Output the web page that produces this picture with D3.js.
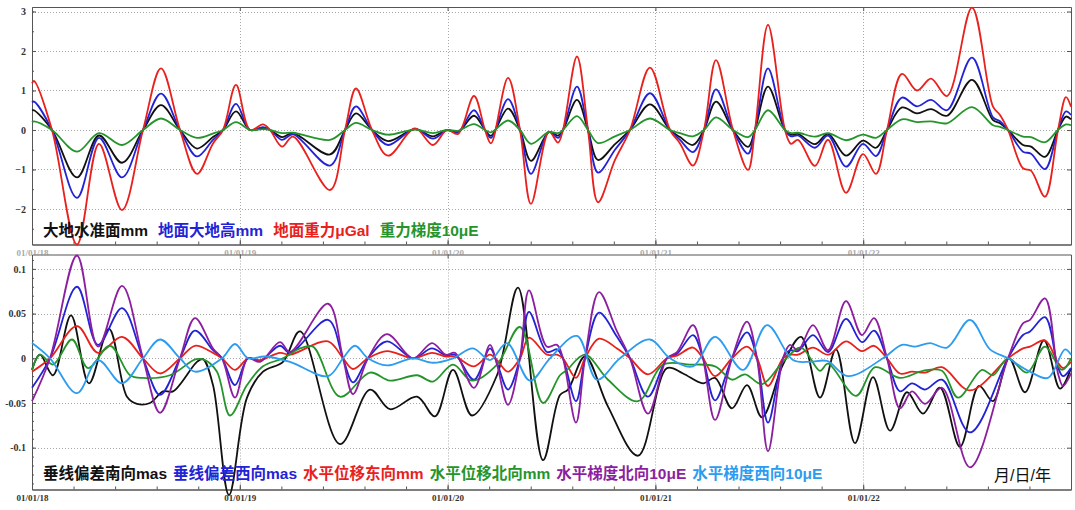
<!DOCTYPE html>
<html>
<head>
<meta charset="utf-8">
<script src="https://cdn.jsdelivr.net/npm/d3@7"></script>
<style>
  body { margin: 0; background: #fff; }
  svg { display: block; }
</style>
</head>
<body>
<div id="chart"></div>
<script>
// time is in years since 01/01/2018
const yearLabels = ["01/01/18", "01/01/19", "01/01/20", "01/01/21", "01/01/22"];
const topTicks = [-2, -1, 0, 1, 2, 3];
const bottomTicks = [-0.1, -0.05, 0, 0.05, 0.1];

// upper panel: all four series share the same knots
const topT = [0, 0.0096, 0.0962, 0.2166, 0.3224, 0.4331, 0.5342, 0.6208, 0.7122, 0.7940,
  0.8710, 0.9192, 0.9817, 1.0491, 1.1117, 1.1453, 1.2031, 1.2560, 1.4341, 1.5063,
  1.5592, 1.6362, 1.7132, 1.8431, 1.9297, 1.9971, 2.0500, 2.1270, 2.1800, 2.2089,
  2.2907, 2.3484, 2.4013, 2.4880, 2.5313, 2.5553, 2.6227, 2.6756, 2.7238, 2.8056,
  2.8778, 2.9740, 3.0703, 3.1184, 3.1809, 3.2339, 3.2916, 3.3734, 3.4456, 3.4793,
  3.5419, 3.6237, 3.6525, 3.6862, 3.7680, 3.8306, 3.9172, 3.9990, 4.0616, 4.1145,
  4.1867, 4.2589, 4.3263, 4.4033, 4.5236, 4.6247, 4.6583, 4.6968, 4.7690, 4.8075,
  4.8749, 4.9374, 4.9759, 5.0];
const geoid = [0.5, 0.5, 0, -1.2, -0.14, -0.83, 0, 0.63, 0, -0.47,
  -0.18, 0, 0.47, 0, 0.05, 0, -0.18, -0.08, -0.62, 0,
  0.42, 0, -0.28, 0.02, -0.16, 0, -0.05, 0.36, 0, -0.15,
  0.54, 0, -0.78, -0.05, -0.14, 0, 0.76, 0, -0.76, -0.36,
  0, 0.65, 0, -0.18, -0.38, 0, 0.72, 0, -0.43, 0,
  1.1, 0, -0.12, -0.1, -0.36, -0.1, -0.65, -0.27, -0.45, 0,
  0.57, 0.42, 0.53, 0.36, 1.27, 0.25, 0.17, 0, -0.38, -0.42,
  -0.68, 0, 0.34, 0.27];
const height = [0.70, 0.72, 0, -1.72, -0.2, -1.2, 0, 0.92, 0, -0.67,
  -0.25, 0, 0.66, 0, 0.07, 0, -0.25, -0.11, -0.9, 0,
  0.6, 0, -0.38, 0.03, -0.22, -0.01, -0.06, 0.5, 0, -0.2,
  0.78, 0, -1.11, -0.05, -0.2, 0, 1.1, 0, -1.08, -0.5,
  0, 0.93, 0, -0.25, -0.56, 0, 1.03, 0, -0.6, 0,
  1.56, 0, -0.16, -0.14, -0.45, -0.14, -0.93, -0.35, -0.66, 0,
  0.82, 0.6, 0.76, 0.5, 1.83, 0.32, 0.22, 0, -0.55, -0.6,
  -0.99, 0, 0.47, 0.38];
const gravity = [1.18, 1.24, 0, -2.9, -0.35, -2.03, 0, 1.56, 0, -1.11,
  -0.34, 0, 1.14, 0, 0.14, 0, -0.42, -0.17, -1.52, 0,
  1.05, 0, -0.65, 0.04, -0.38, 0, -0.1, 0.86, 0, -0.34,
  1.32, 0, -1.87, -0.04, -0.32, 0, 1.86, 0, -1.83, -0.76,
  0, 1.58, 0, -0.34, -0.9, 0, 1.77, 0, -1.01, 0,
  2.66, 0, -0.35, -0.25, -0.91, -0.25, -1.59, -0.61, -1.11, 0,
  1.42, 1.0, 1.3, 0.86, 3.1, 0.59, 0.38, 0, -0.97, -1.03,
  -1.69, 0, 0.83, 0.59];
const gradient = [0.2, 0.22, 0, -0.55, -0.08, -0.38, 0, 0.29, 0, -0.2,
  -0.09, 0, 0.2, 0, 0.02, 0, -0.08, -0.07, -0.25, 0,
  0.18, 0, -0.12, 0.01, -0.08, 0, -0.02, 0.15, 0, -0.06,
  0.24, 0, -0.35, -0.05, -0.08, 0, 0.35, 0, -0.33, -0.16,
  0, 0.29, 0, -0.08, -0.16, 0, 0.32, 0, -0.18, 0,
  0.5, 0, -0.08, -0.07, -0.17, -0.08, -0.26, -0.12, -0.2, 0,
  0.27, 0.2, 0.22, 0.17, 0.58, 0.12, 0.08, 0, -0.17, -0.18,
  -0.31, 0, 0.14, 0.12];

// lower panel: west deflection, east displacement and north gradient share knots
const devT = [0, 0.0866, 0.2166, 0.3176, 0.4331, 0.5342, 0.6160, 0.7122, 0.7844, 0.8710,
  0.9143, 0.9769, 1.0395, 1.0972, 1.1935, 1.2416, 1.4244, 1.4966, 1.5447, 1.6169,
  1.7084, 1.8335, 1.9249, 1.9923, 2.0356, 2.1270, 2.2040, 2.2377, 2.2907, 2.3484,
  2.3917, 2.4783, 2.5265, 2.5553, 2.6179, 2.6612, 2.7286, 2.8152, 2.8778, 2.9644,
  3.0558, 3.1039, 3.1809, 3.2291, 3.2868, 3.3686, 3.4408, 3.4889, 3.5419, 3.6140,
  3.6477, 3.6862, 3.7584, 3.8306, 3.9172, 3.9942, 4.0520, 4.1145, 4.1771, 4.2348,
  4.2974, 4.3792, 4.5139, 4.6968, 4.7690, 4.8027, 4.8749, 4.9374, 4.9615, 5.0];
const devWest = [-0.033, 0, 0.08, 0.015, 0.056, 0, -0.041, 0, 0.031, 0.009,
  0, -0.03, 0, -0.003, 0.014, 0.006, 0.043, 0, -0.027, 0,
  0.019, 0, 0.011, 0.003, 0.004, -0.024, 0.011, -0.005, -0.035, 0,
  0.052, 0.007, 0.01, 0, -0.048, 0, 0.051, 0.024, 0, -0.043,
  0, 0.005, 0.026, 0, -0.047, 0, 0.029, 0, -0.072, 0,
  0.009, 0.008, 0.026, 0.007, 0.044, 0.018, 0.031, 0, -0.037, -0.028,
  -0.035, -0.024, -0.083, 0, 0.026, 0.03, 0.046, -0.01, -0.02, -0.011];
const dispEast = [-0.015, 0, 0.036, 0.006, 0.024, 0, -0.017, 0, 0.014, 0.006,
  0, -0.013, 0, -0.002, 0.006, 0.004, 0.019, 0, -0.012, 0,
  0.008, 0, 0.006, 0.002, 0.002, -0.009, 0.004, -0.002, -0.015, 0,
  0.023, 0.004, 0.004, 0, -0.022, 0, 0.022, 0.011, 0, -0.018,
  0, 0.003, 0.012, 0, -0.02, 0, 0.013, 0, -0.031, 0,
  0.004, 0.004, 0.012, 0.004, 0.019, 0.008, 0.014, 0, -0.017, -0.015,
  -0.016, -0.01, -0.036, 0, 0.011, 0.013, 0.02, -0.005, -0.011, -0.004];
const gradNorth = [-0.048, 0, 0.115, 0.013, 0.081, 0, -0.061, 0, 0.045, 0.011,
  0, -0.044, 0, -0.004, 0.018, 0.007, 0.061, 0, -0.04, 0,
  0.027, 0, 0.017, 0.004, 0.006, -0.033, 0.015, -0.007, -0.052, 0,
  0.076, 0.013, 0.015, 0, -0.072, 0, 0.074, 0.03, 0, -0.062,
  0, 0.007, 0.037, 0, -0.069, 0, 0.041, 0, -0.104, 0,
  0.015, 0.009, 0.037, 0.009, 0.064, 0.026, 0.045, 0, -0.056, -0.037,
  -0.051, -0.033, -0.122, 0, 0.039, 0.043, 0.067, -0.017, -0.031, -0.017];

// lower panel series with their own knots: [t, value]
const devSouth = [[0, -0.013], [0.0385, 0.004], [0.1011, -0.019], [0.1877, 0.048], [0.2743, -0.028],
  [0.3705, 0.033], [0.4572, -0.043], [0.5053, -0.051], [0.5679, -0.05], [0.6304, -0.037],
  [0.6785, -0.037], [0.7940, -0.004], [0.8229, -0.001], [0.8710, -0.03], [0.9480, -0.153],
  [1.0346, -0.044], [1.1116, -0.015], [1.2079, -0.004], [1.2897, 0.03], [1.4822, -0.096],
  [1.6266, -0.035], [1.7228, -0.057], [1.8527, -0.043], [1.9393, -0.065], [2.0260, -0.013],
  [2.1174, -0.064], [2.2377, -0.019], [2.3388, 0.079], [2.4591, -0.114], [2.5409, -0.041],
  [2.5794, -0.035], [2.6612, 0.002], [2.7719, -0.054], [2.9162, -0.109], [3.0558, -0.011],
  [3.1328, -0.017], [3.2291, -0.028], [3.2868, -0.022], [3.3686, -0.056], [3.4408, -0.03],
  [3.5130, -0.066], [3.6140, -0.007], [3.7007, 0.024], [3.7921, -0.044], [3.8691, 0.01],
  [3.9605, -0.095], [4.0472, -0.021], [4.1290, -0.081], [4.2108, -0.038], [4.2878, -0.062],
  [4.3696, -0.033], [4.4658, -0.099], [4.5573, -0.031], [4.6246, -0.048], [4.7016, 0],
  [4.7786, -0.038], [4.8700, 0.02], [4.9471, -0.034], [5.0, -0.011]];
const dispNorth = [[0, -0.013], [0.0385, 0.004], [0.1011, -0.007], [0.1925, 0.021], [0.2695, -0.011],
  [0.3754, 0.014], [0.4716, -0.019], [0.5342, -0.022], [0.6641, -0.019], [0.7892, -0.001],
  [0.8325, -0.002], [0.8903, -0.015], [0.9528, -0.064], [1.0346, -0.03], [1.1116, -0.009],
  [1.2079, 0], [1.2897, 0.011], [1.3523, 0.013], [1.4822, -0.043], [1.6266, -0.016],
  [1.7228, -0.025], [1.8527, -0.019], [1.9297, -0.026], [2.0260, -0.007], [2.1174, -0.025],
  [2.2377, -0.007], [2.3484, 0.035], [2.4591, -0.05], [2.5409, -0.019], [2.5746, -0.013],
  [2.6612, 0.004], [2.7719, -0.024], [2.9162, -0.048], [3.0366, -0.007], [3.1665, -0.007],
  [3.2868, -0.009], [3.3686, -0.024], [3.4312, -0.018], [3.5130, -0.029], [3.6140, -0.004],
  [3.7007, 0.012], [3.7921, -0.014], [3.8306, -0.006], [3.9653, -0.042], [4.0568, -0.01],
  [4.1771, -0.022], [4.2878, -0.014], [4.3792, -0.014], [4.4562, -0.044], [4.5717, -0.013],
  [4.6246, -0.019], [4.6968, 0], [4.7882, -0.016], [4.8749, 0.013], [4.9567, -0.013], [5.0, 0]];
const gradWest = [[0, 0.017], [0.0866, 0], [0.2166, -0.039], [0.3176, -0.002], [0.4331, -0.028],
  [0.5342, 0], [0.6160, 0.021], [0.7122, 0], [0.7844, -0.015], [0.9143, 0],
  [0.9769, 0.016], [1.0395, 0], [1.1213, 0.002], [1.2416, -0.004], [1.4244, -0.02],
  [1.4966, 0], [1.5544, 0.014], [1.6169, 0], [1.7084, -0.008], [1.8335, 0],
  [1.9297, -0.005], [2.0260, 0], [2.1222, 0.011], [2.2040, -0.002], [2.2858, 0.017],
  [2.3965, -0.025], [2.4928, 0], [2.6227, 0.025], [2.7190, -0.024], [2.8296, 0],
  [2.9740, 0.021], [3.0702, 0], [3.1809, -0.009], [3.2868, 0.024], [3.4215, -0.013],
  [3.5370, 0.037], [3.6622, -0.002], [3.7440, -0.004], [3.8258, -0.003], [3.9268, -0.02],
  [4.0953, 0], [4.1867, 0.015], [4.2493, 0.013], [4.3214, 0.017], [4.4033, 0.012],
  [4.5139, 0.043], [4.6102, 0.01], [4.6968, 0], [4.8027, -0.015], [4.8893, -0.022],
  [4.9711, 0.01], [5.0, 0.004]];

const topNames = ["大地水准面mm", "地面大地高mm", "地面重力μGal", "重力梯度10μE"];
const bottomNames = ["垂线偏差南向mas", "垂线偏差西向mas", "水平位移东向mm", "水平位移北向mm", "水平梯度北向10μE", "水平梯度西向10μE"];

const C = {
  black: "#111111", blue: "#2323d6", red: "#e8211d",
  green: "#25952b", purple: "#8c1f9f", sky: "#2b9cf0"
};

const W = 1075, H = 510;
const L = 32, R = 1071;
const svg = d3.select("#chart").append("svg")
  .attr("width", W).attr("height", H)
  .style("font-family", "'Liberation Sans', 'Noto Sans CJK SC', sans-serif");

const x = d3.scaleLinear().domain([0, 5]).range([L, R]);

function panel(y, ticks, top, bottom, fmt, minorStep, labelColor) {
  const g = svg.append("g");
  g.append("rect").attr("x", L).attr("y", top)
    .attr("width", R - L).attr("height", bottom - top).attr("fill", "#fff");

  // dotted grid
  g.selectAll(null).data(ticks).join("line")
    .attr("x1", L).attr("x2", R)
    .attr("y1", d => Math.round(y(d)) + 0.5).attr("y2", d => Math.round(y(d)) + 0.5)
    .attr("stroke", "#a8a8a8").attr("stroke-dasharray", "1,2");
  g.selectAll(null).data([1, 2, 3, 4]).join("line")
    .attr("x1", d => Math.round(x(d)) + 0.5).attr("x2", d => Math.round(x(d)) + 0.5)
    .attr("y1", top).attr("y2", bottom)
    .attr("stroke", "#a8a8a8").attr("stroke-dasharray", "1,2");

  const minorY = d3.range(Math.ceil(y.domain()[0] / minorStep), Math.floor(y.domain()[1] / minorStep) + 1)
    .map(i => i * minorStep);
  const minorX = d3.range(1, 25).map(i => i / 5);

  const style = a => {
    a.select(".domain").attr("stroke", "#555");
    a.selectAll(".tick line").attr("stroke", "#555");
    a.selectAll("text").attr("fill", "#333")
      .style("font-family", "'Liberation Serif', 'DejaVu Serif', serif")
      .style("font-weight", "bold");
  };

  g.append("g").attr("transform", `translate(${L},0)`)
    .call(d3.axisLeft(y).tickValues(minorY).tickSize(-2).tickFormat("").tickSizeOuter(0))
    .call(style);
  g.append("g").attr("transform", `translate(${L},0)`)
    .call(d3.axisLeft(y).tickValues(ticks).tickSize(-4).tickPadding(6).tickFormat(fmt).tickSizeOuter(0))
    .call(style)
    .selectAll("text").style("font-size", "10px");
  g.append("g").attr("transform", `translate(${R},0)`)
    .call(d3.axisRight(y).tickValues(ticks).tickSize(-4).tickFormat("").tickSizeOuter(0))
    .call(style);
  g.append("g").attr("transform", `translate(0,${top})`)
    .call(d3.axisTop(x).tickValues([1, 2, 3, 4]).tickSize(-4).tickFormat("").tickSizeOuter(0))
    .call(style);
  g.append("g").attr("transform", `translate(0,${bottom})`)
    .call(d3.axisBottom(x).tickValues(minorX).tickSize(-3).tickFormat("").tickSizeOuter(0))
    .call(style);
  g.append("g").attr("transform", `translate(0,${bottom})`)
    .call(d3.axisBottom(x).tickValues([0, 1, 2, 3, 4]).tickSize(-5).tickPadding(5)
      .tickFormat((d, i) => yearLabels[i]).tickSizeOuter(0))
    .call(style)
    .selectAll("text").style("font-size", "9px").attr("fill", labelColor);
  return g;
}

function drawLine(g, pts, y, color) {
  const line = d3.line()
    .x(d => x(d[0])).y(d => y(d[1]))
    .curve(d3.curveCatmullRom.alpha(0.5));
  g.append("path").datum(pts)
    .attr("d", line)
    .attr("fill", "none")
    .attr("stroke", color)
    .attr("stroke-width", 1.8)
    .attr("stroke-linejoin", "round");
}

function legend(g, names, colors, x0, yBase, gap) {
  let cx = x0;
  names.forEach((n, i) => {
    const t = g.append("text")
      .attr("x", cx).attr("y", yBase)
      .attr("fill", colors[i])
      .style("font-size", "15.5px")
      .style("font-weight", "bold")
      .text(n);
    cx += t.node().getComputedTextLength() + gap;
  });
}

// ---- upper panel ----
const yTop = d3.scaleLinear().domain([-2.9, 3.114]).range([244.5, 7]);
const gTop = panel(yTop, topTicks, 7, 244.5, d => d3.format("d")(d), 0.5, "#aaa");
const topSeries = [geoid, height, gravity, gradient];
const topColors = [C.black, C.blue, C.red, C.green];
topSeries.forEach((s, i) => drawLine(gTop, topT.map((t, j) => [t, s[j]]), yTop, topColors[i]));
legend(gTop, topNames, topColors, 43, 236, 10);

// ---- lower panel ----
const yBot = d3.scaleLinear().domain([-0.1468, 0.1161]).range([489.5, 254.5]);
const gBot = panel(yBot, bottomTicks, 254.5, 489.5, d => d === 0 ? "0" : String(d), 0.01, "#333");
const bottomSeries = [
  devSouth,
  devT.map((t, j) => [t, devWest[j]]),
  devT.map((t, j) => [t, dispEast[j]]),
  dispNorth,
  devT.map((t, j) => [t, gradNorth[j]]),
  gradWest
];
const bottomColors = [C.black, C.blue, C.red, C.green, C.purple, C.sky];
bottomSeries.forEach((s, i) => drawLine(gBot, s, yBot, bottomColors[i]));
legend(gBot, bottomNames, bottomColors, 43, 479, 6);

gBot.append("text")
  .attr("x", 994).attr("y", 481)
  .attr("fill", "#111")
  .style("font-size", "16px")
  .text("月/日/年");
</script>
</body>
</html>
